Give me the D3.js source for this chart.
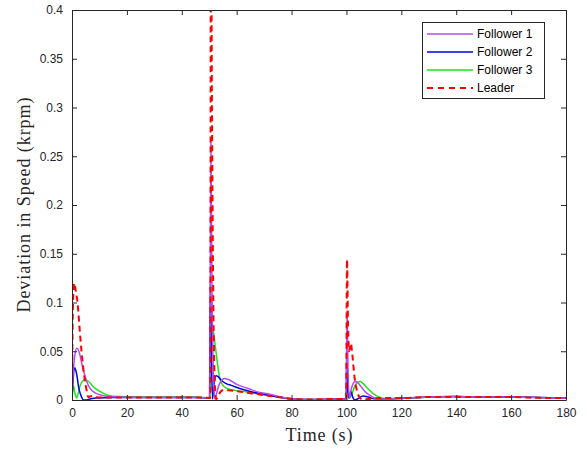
<!DOCTYPE html>
<html>
<head>
<meta charset="utf-8">
<script src="https://cdn.jsdelivr.net/npm/d3@7/dist/d3.min.js"></script>
<style>
  html, body { margin: 0; padding: 0; background: #fff; }
  svg { display: block; }
  .tick-label { font-family: "Liberation Sans", Arial, sans-serif; font-size: 12px; fill: #262626; }
  .axis-title { font-family: "Liberation Serif", "Times New Roman", serif; font-size: 18px; fill: #262626; }
  .legend-text { font-family: "Liberation Sans", Arial, sans-serif; font-size: 12px; fill: #000; }
</style>
</head>
<body>
<svg id="chart" width="587" height="450"></svg>
<script>
// Speed deviation of the leader and three followers (krpm) over time (s)
const xTicks = [0, 20, 40, 60, 80, 100, 120, 140, 160, 180];
const yTicks = [0, 0.05, 0.1, 0.15, 0.2, 0.25, 0.3, 0.35, 0.4];
const yTickLabels = ["0", "0.05", "0.1", "0.15", "0.2", "0.25", "0.3", "0.35", "0.4"];

const seriesNames = ["Follower 1", "Follower 2", "Follower 3", "Leader"];
const seriesColors = ["#b44cf0", "#0000e6", "#19e619", "#ff0000"];

const follower1T = [0, 0.5, 1, 1.8, 2.5, 4, 5.5, 8, 12, 16, 25, 35, 45, 50.2,
  50.6, 51.0, 51.6, 52.0, 52.6, 53.5, 54.5, 55.5, 57, 60, 64, 68, 72, 76, 80, 85, 90, 95, 99.9,
  100.2, 100.6, 101.0, 101.5, 102.3, 103.1, 104, 105.5, 107, 109, 111, 114, 120, 130, 140, 150, 160, 170, 180];
const follower1V = [0, 0.03, 0.045, 0.053, 0.05, 0.032, 0.018, 0.008, 0.004, 0.003, 0.0025, 0.0025, 0.0025, 0.0022,
  0.265, 0.12, 0.02, 0.001, 0.006, 0.015, 0.02, 0.022, 0.021, 0.016, 0.012, 0.008, 0.006, 0.003, 0.0012, 0.0006, 0.0006, 0.001, 0.001,
  0.092, 0.03, 0.002, 0.008, 0.016, 0.019, 0.018, 0.013, 0.008, 0.004, 0.0012, 0.0008, 0.002, 0.003, 0.0035, 0.003, 0.003, 0.0025, 0.002];

const follower2T = [0, 0.4, 1, 1.6, 2.5, 3.5, 4.2, 5, 6.5, 9, 15, 25, 35, 45, 50.1,
  50.4, 50.8, 51.2, 51.7, 52.5, 53.2, 54.5, 56, 58, 62, 66, 70, 75, 80, 85, 90, 95, 99.9,
  100.1, 100.5, 100.9, 101.6, 102.3, 103, 104, 106, 108, 110, 114, 120, 130, 140, 150, 160, 170, 180];
const follower2V = [0, 0.02, 0.033, 0.028, 0.012, 0.003, 0, 0, 0.001, 0.002, 0.0025, 0.0025, 0.0025, 0.0025, 0.002,
  0.123, 0.05, 0.001, 0.015, 0.025, 0.024, 0.02, 0.017, 0.015, 0.011, 0.008, 0.006, 0.003, 0.0012, 0.0006, 0.0006, 0.001, 0.001,
  0.048, 0.01, 0.002, 0.009, 0.003, 0.0002, 0.001, 0.004, 0.003, 0.0012, 0.0008, 0.002, 0.003, 0.0035, 0.003, 0.003, 0.0025, 0.002];

const follower3T = [0, 0.3, 0.6, 1.0, 1.6, 2.2, 3, 4, 4.8, 6, 8, 10, 13, 17, 25, 35, 45, 50.3,
  50.8, 51.5, 52.0, 52.7, 53.3, 54.5, 56.4, 60, 64, 68, 72, 76, 80, 85, 90, 95, 99.9,
  100.1, 100.5, 101.0, 102, 103, 104, 105, 106, 108, 110, 112, 114, 118, 122, 130, 140, 150, 160, 170, 180];
const follower3V = [0, 0.012, 0.014, 0.008, 0.002, 0.006, 0.015, 0.02, 0.021, 0.019, 0.013, 0.009, 0.005, 0.0035, 0.003, 0.003, 0.003, 0.002,
  0.035, 0.071, 0.06, 0.044, 0.031, 0.017, 0.012, 0.0095, 0.008, 0.006, 0.0045, 0.003, 0.0012, 0.0006, 0.0006, 0.001, 0.001,
  0.014, 0.01, 0.002, 0.006, 0.014, 0.018, 0.019, 0.017, 0.011, 0.006, 0.003, 0.0015, 0.001, 0.002, 0.003, 0.0035, 0.003, 0.003, 0.0025, 0.002];

const leaderT = [0, 0.3, 0.8, 1.2, 2, 3, 4, 5, 6, 7, 8.5, 12, 20, 30, 40, 48, 50.4,
  50.6, 51.0, 51.5, 52.0, 52.5, 53.2, 54, 55, 57, 60, 65, 70, 75, 80, 85, 90, 95, 99.9,
  100.2, 100.6, 101.0, 101.6, 102.2, 103, 104, 105, 106, 108, 112, 120, 130, 140, 150, 160, 170, 180];
const leaderV = [0, 0.09, 0.12, 0.115, 0.1, 0.065, 0.035, 0.015, 0.003, 0.004, 0.003, 0.0025, 0.0025, 0.0025, 0.0025, 0.0025, 0.002,
  0.55, 0.3, 0.1, 0.02, 0.001, 0.003, 0.008, 0.01, 0.01, 0.009, 0.007, 0.005, 0.003, 0.001, 0.0005, 0.0008, 0.001, 0.001,
  0.144, 0.075, 0.05, 0.058, 0.045, 0.022, 0.008, 0.002, 0.0005, 0.001, 0.002, 0.002, 0.003, 0.003, 0.003, 0.003, 0.0022, 0.002];

const seriesT = [follower1T, follower2T, follower3T, leaderT];
const seriesV = [follower1V, follower2V, follower3V, leaderV];

const svg = d3.select("#chart");
const plot = { left: 72, right: 566, top: 10, bottom: 400 };
const axisColor = "#262626";

const x = d3.scaleLinear().domain([0, 180]).range([plot.left, plot.right]);
const y = d3.scaleLinear().domain([0, 0.4]).range([plot.bottom, plot.top]);

svg.append("defs").append("clipPath").attr("id", "plot-clip")
  .append("rect")
  .attr("x", plot.left).attr("y", plot.top)
  .attr("width", plot.right - plot.left).attr("height", plot.bottom - plot.top);

// Series lines (drawn bottom-up so the leader sits on top)
const line = d3.line().x(d => x(d[0])).y(d => y(d[1])).curve(d3.curveMonotoneX);
const lines = svg.append("g").attr("clip-path", "url(#plot-clip)");
[2, 1, 0, 3].forEach(i => {
  const pts = seriesT[i].map((t, k) => [t, seriesV[i][k]]);
  lines.append("path")
    .datum(pts)
    .attr("d", line)
    .attr("fill", "none")
    .attr("stroke", seriesColors[i])
    .attr("stroke-width", i === 3 ? 2 : 1.5)
    .attr("stroke-dasharray", i === 3 ? "6,4" : null)
    .attr("stroke-linejoin", "round");
});

// Axes: box with inward ticks on all four sides
const tickLen = 5;
const bottomAxis = d3.axisBottom(x).tickValues(xTicks).tickSizeInner(-tickLen).tickSizeOuter(0).tickPadding(8);
const topAxis = d3.axisTop(x).tickValues(xTicks).tickSizeInner(-tickLen).tickSizeOuter(0).tickFormat("");
const leftAxis = d3.axisLeft(y).tickValues(yTicks).tickSizeInner(-tickLen).tickSizeOuter(0).tickPadding(9)
  .tickFormat((d, i) => yTickLabels[i]);
const rightAxis = d3.axisRight(y).tickValues(yTicks).tickSizeInner(-tickLen).tickSizeOuter(0).tickFormat("");

function styleAxis(g) {
  g.select(".domain").attr("stroke", axisColor).attr("stroke-width", 1);
  g.selectAll(".tick line").attr("stroke", axisColor).attr("stroke-width", 1);
  g.selectAll(".tick text").attr("class", "tick-label").attr("fill", axisColor);
}
svg.append("g").attr("transform", `translate(0,${plot.bottom})`).call(bottomAxis).call(styleAxis);
svg.append("g").attr("transform", `translate(0,${plot.top})`).call(topAxis).call(styleAxis);
svg.append("g").attr("transform", `translate(${plot.left},0)`).call(leftAxis).call(styleAxis);
svg.append("g").attr("transform", `translate(${plot.right},0)`).call(rightAxis).call(styleAxis);
svg.selectAll("text.tick-label").attr("font-family", null).attr("font-size", null);

// Axis titles
svg.append("text")
  .attr("class", "axis-title")
  .attr("x", (plot.left + plot.right) / 2)
  .attr("y", 441)
  .attr("text-anchor", "middle")
  .attr("textLength", 67).attr("lengthAdjust", "spacing")
  .text("Time (s)");

svg.append("text")
  .attr("class", "axis-title")
  .attr("transform", "translate(30,205) rotate(-90)")
  .attr("text-anchor", "middle")
  .attr("textLength", 215).attr("lengthAdjust", "spacing")
  .text("Deviation in Speed (krpm)");

// Legend
const legend = svg.append("g");
legend.append("rect")
  .attr("x", 422.5).attr("y", 22.5).attr("width", 122).attr("height", 76)
  .attr("fill", "#fff").attr("stroke", axisColor).attr("stroke-width", 1);
seriesNames.forEach((name, i) => {
  const ly = 34 + i * 18;
  legend.append("line")
    .attr("x1", 427).attr("x2", 473).attr("y1", ly).attr("y2", ly)
    .attr("stroke", seriesColors[i])
    .attr("stroke-width", i === 3 ? 2 : 1.5)
    .attr("stroke-dasharray", i === 3 ? "6,5" : null);
  legend.append("text")
    .attr("class", "legend-text")
    .attr("x", 477).attr("y", ly + 4.3)
    .text(name);
});
</script>
</body>
</html>
